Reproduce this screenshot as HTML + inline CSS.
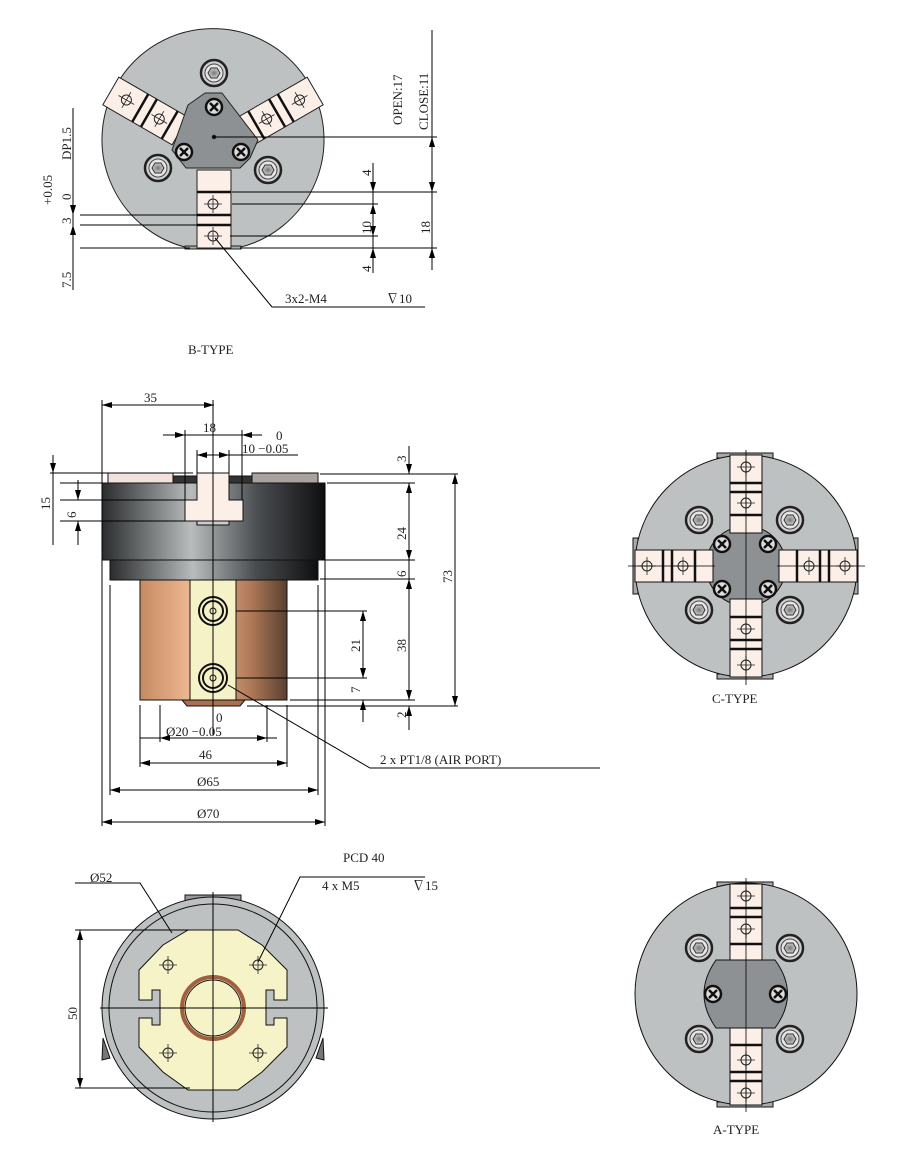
<!DOCTYPE html>
<html><head><meta charset="utf-8"><style>
html,body{margin:0;padding:0;background:#fff;}
svg{display:block;}
text{font-family:"Liberation Serif","Noto Serif CJK SC",serif;font-size:13px;fill:#222;}
</style></head><body>
<svg width="903" height="1159" viewBox="0 0 903 1159" xmlns="http://www.w3.org/2000/svg">
<defs>
<marker id="a" viewBox="0 0 10 6" refX="10" refY="3" markerWidth="10" markerHeight="6" orient="auto-start-reverse"><path d="M0,0 L10,3 L0,6z" fill="#000"/></marker>
<linearGradient id="body" x1="0" x2="1"><stop offset="0" stop-color="#2a2c2e"/><stop offset="0.4" stop-color="#b8bcbc"/><stop offset="0.7" stop-color="#4a4d50"/><stop offset="1" stop-color="#0e0f10"/></linearGradient>
<linearGradient id="cu" x1="0" x2="1"><stop offset="0" stop-color="#c68a62"/><stop offset="0.4" stop-color="#f4c09a"/><stop offset="0.75" stop-color="#b07a58"/><stop offset="1" stop-color="#5a4030"/></linearGradient>
<radialGradient id="hx"><stop offset="0" stop-color="#777"/><stop offset="1" stop-color="#ccc"/></radialGradient>
<g id="hex"><circle r="13" fill="#d0d0d0" stroke="#222" stroke-width="2.5"/><circle r="9" fill="#e6e6e6" stroke="#444"/><polygon points="-6,0 -3,-5 3,-5 6,0 3,5 -3,5" fill="url(#hx)" stroke="#333"/></g>
<g id="ph"><circle r="8" fill="#ddd" stroke="#111" stroke-width="2.5"/><path d="M-4,-4 L4,4 M4,-4 L-4,4" stroke="#111" stroke-width="2.5"/></g>
<g id="tap"><circle r="5" fill="none" stroke="#222"/><path d="M-9,0 H9 M0,-9 V9" stroke="#222" stroke-width="0.8"/></g>
<g id="jawv"><rect x="-16" y="0" width="32" height="86" fill="#fbefe8" stroke="#222"/><path d="M-16,0 H16" stroke="#111" stroke-width="3"/><path d="M-16,30 H16 M-16,38 H16" stroke="#111" stroke-width="2.5"/><path d="M-16,68 H16" stroke="#111" stroke-width="2.5"/><use href="#tap" x="0" y="14"/><use href="#tap" x="0" y="52"/><path d="M0,-6 V92" stroke="#222" stroke-width="0.8"/></g>
</defs>

<!-- ============ B-TYPE ============ -->
<g stroke="#222" stroke-width="1">
<path d="M189,248 A111,111 0 1 1 237,248 Z" fill="#bdc1c1"/>
<rect x="185" y="246" width="56" height="3" fill="#aaa"/>
<!-- left jaw -->
<g transform="translate(213,150) rotate(120)">
<rect x="-16" y="38" width="32" height="80" fill="#fbefe8"/>
<path d="M-16,50 H16 M-16,74 H16 M-16,84 H16" stroke="#111" stroke-width="2.5"/>
<use href="#tap" x="0" y="62"/><use href="#tap" x="0" y="100"/>
</g>
<g transform="translate(213,150) rotate(-120)">
<rect x="-16" y="38" width="32" height="80" fill="#fbefe8"/>
<path d="M-16,50 H16 M-16,74 H16 M-16,84 H16" stroke="#111" stroke-width="2.5"/>
<use href="#tap" x="0" y="62"/><use href="#tap" x="0" y="100"/>
</g>
<rect x="197" y="170" width="34" height="78" fill="#fbefe8"/>
<path d="M197,192 H231 M197,215 H231 M197,225 H231" stroke="#111" stroke-width="2.5"/>
<use href="#tap" x="213" y="204"/><use href="#tap" x="213" y="236"/>
<polygon points="205,93 222,93 258,140 250,158 240,168 186,168 172,150 188,105" fill="#8d9193" stroke="#222" stroke-linejoin="round"/>
<use href="#ph" x="214" y="107"/><use href="#ph" x="184" y="152"/><use href="#ph" x="241" y="152"/>
<circle cx="214" cy="137" r="1.8" fill="#000"/>
<use href="#hex" x="214" y="73"/><use href="#hex" x="158" y="168"/><use href="#hex" x="268" y="170"/>
</g>
<g stroke="#000" stroke-width="1" fill="none">
<path d="M214,137 H437 M232,192 H437 M232,204 H378 M230,236 H378 M240,248 H437"/>
<path d="M80,215 H200 M80,225 H200 M80,248 H190"/>
<path d="M73,108 V290"/>
<path d="M73,200 V215" marker-end="url(#a)"/><path d="M73,225 V240" marker-start="url(#a)"/>
<path d="M373,163 V273"/><path d="M373,175 V192" marker-end="url(#a)"/><path d="M373,204 V236" marker-start="url(#a)" marker-end="url(#a)"/><path d="M373,248 V262" marker-start="url(#a)"/>
<path d="M432,30 V270"/><path d="M432,137 V192" marker-start="url(#a)" marker-end="url(#a)"/><path d="M432,248 V262" marker-start="url(#a)"/>
<path d="M215,238 L272,307 H425"/>
</g>
<text transform="translate(402,125) rotate(-90)">OPEN:17</text>
<text transform="translate(428,130) rotate(-90)">CLOSE:11</text>
<text transform="translate(71,160) rotate(-90)">DP1.5</text>
<text transform="translate(52,205) rotate(-90)">+0.05</text>
<text transform="translate(71,200) rotate(-90)">0</text>
<text transform="translate(71,224) rotate(-90)">3</text>
<text transform="translate(71,288) rotate(-90)">7.5</text>
<text transform="translate(371,176) rotate(-90)">4</text>
<text transform="translate(371,234) rotate(-90)">10</text>
<text transform="translate(371,272) rotate(-90)">4</text>
<text transform="translate(430,234) rotate(-90)">18</text>
<text x="285" y="303">3x2-M4</text>
<text x="386" y="303">∇10</text>
<text x="188" y="354">B-TYPE</text>

<!-- ============ SIDE VIEW ============ -->
<g stroke="#111" stroke-width="1">
<rect x="108" y="473" width="65" height="10" fill="#f3e2dc"/>
<rect x="252" y="473" width="66" height="10" fill="#a9a2a0"/>
<rect x="173" y="476" width="24" height="7" fill="#333"/>
<rect x="229" y="476" width="23" height="7" fill="#333"/>
<rect x="102" y="483" width="223" height="77" fill="url(#body)"/>
<rect x="110" y="560" width="208" height="20" fill="url(#body)"/>
<path d="M197,473 H229 V500 H243 V521 H185 V500 H197 Z" fill="#fbefe8"/>
<rect x="197" y="521" width="32" height="4" fill="#ccc"/>
<rect x="140" y="580" width="147" height="120" fill="url(#cu)"/>
<rect x="190" y="580" width="46" height="120" fill="#f6f2c8"/>
<path d="M182,700 H245 L240,706 H187 Z" fill="#a87050"/>
<circle cx="213" cy="611" r="14" fill="none" stroke-width="2"/><circle cx="213" cy="611" r="10" fill="none" stroke-width="2"/><circle cx="213" cy="611" r="3" fill="none"/>
<circle cx="213" cy="678" r="14" fill="none" stroke-width="2"/><circle cx="213" cy="678" r="10" fill="none" stroke-width="2"/><circle cx="213" cy="678" r="3" fill="none"/>
</g>
<g stroke="#000" stroke-width="1" fill="none">
<path d="M213,400 V735"/>
<path d="M102,400 V826 M325,485 V826 M110,585 V795 M318,585 V795 M140,705 V767 M287,705 V767 M160,705 V742 M267,705 V742 M185,430 V500 M242,430 V500 M197,450 V473 M229,450 V473"/>
<path d="M102,405 H214" marker-start="url(#a)" marker-end="url(#a)"/>
<path d="M163,435 H185" marker-end="url(#a)"/><path d="M242,435 H262" marker-start="url(#a)"/><path d="M185,435 H242"/>
<path d="M197,455 H229" marker-start="url(#a)" marker-end="url(#a)"/><path d="M229,455 H298"/>
<path d="M50,473 H193 M60,483 H102 M60,500 H185 M60,521 H185"/>
<path d="M53,455 V473" marker-end="url(#a)"/><path d="M53,473 V545"/>
<path d="M78,480 V500" marker-end="url(#a)"/><path d="M78,521 V545" marker-start="url(#a)"/>
<path d="M320,474 H458 M327,483 H415 M322,560 H415 M320,579 H415 M236,611 H367 M236,678 H367 M290,700 H415 M247,706 H458"/>
<path d="M409,446 V474" marker-end="url(#a)"/><path d="M409,483 V560" marker-start="url(#a)" marker-end="url(#a)"/><path d="M409,579 V700" marker-start="url(#a)" marker-end="url(#a)"/><path d="M409,706 V730" marker-start="url(#a)"/><path d="M409,560 V579"/>
<path d="M455,474 V706" marker-start="url(#a)" marker-end="url(#a)"/>
<path d="M363,611 V678" marker-start="url(#a)" marker-end="url(#a)"/><path d="M363,700 V722" marker-start="url(#a)"/>
<path d="M160,738 H182" marker-start="url(#a)"/><path d="M245,738 H267" marker-end="url(#a)"/><path d="M140,738 H277"/>
<path d="M140,763 H287" marker-start="url(#a)" marker-end="url(#a)"/>
<path d="M110,790 H318" marker-start="url(#a)" marker-end="url(#a)"/>
<path d="M102,822 H325" marker-start="url(#a)" marker-end="url(#a)"/>
<path d="M228,685 L370,768 H600"/>
</g>
<text x="144" y="402">35</text>
<text x="203" y="432">18</text>
<text x="276" y="440">0</text>
<text x="242" y="453">10 −0.05</text>
<text transform="translate(406,462) rotate(-90)">3</text>
<text transform="translate(406,540) rotate(-90)">24</text>
<text transform="translate(406,577) rotate(-90)">6</text>
<text transform="translate(452,583) rotate(-90)">73</text>
<text transform="translate(360,652) rotate(-90)">21</text>
<text transform="translate(406,652) rotate(-90)">38</text>
<text transform="translate(360,693) rotate(-90)">7</text>
<text transform="translate(406,718) rotate(-90)">2</text>
<text transform="translate(50,510) rotate(-90)">15</text>
<text transform="translate(76,518) rotate(-90)">6</text>
<text x="216" y="722">0</text>
<text x="166" y="736">Ø20 −0.05</text>
<text x="199" y="759">46</text>
<text x="197" y="786">Ø65</text>
<text x="197" y="818">Ø70</text>
<text x="380" y="764">2 x PT1/8 (AIR PORT)</text>
<text x="343" y="862">PCD 40</text>

<!-- ============ BOTTOM VIEW ============ -->
<g stroke="#111" stroke-width="1">
<rect x="185" y="895" width="56" height="6" fill="#999"/>
<path d="M103,1038 L110,1058 L102,1060 Z M323,1038 L316,1058 L324,1060 Z" fill="#777"/>
<circle cx="213" cy="1008" r="111" fill="#bdc1c1"/>
<circle cx="213" cy="1008" r="104" fill="none"/>
<path d="M188,930 H238 L262,945 L287,970 V1000 H274 V990 H266 V1025 H274 V1018 H287 V1047 L262,1072 L238,1090 H188 L163,1072 L139,1047 V1018 H152 V1025 H160 V990 H152 V1000 H139 V970 L163,945 Z" fill="#f6f3c8"/>
<circle cx="213" cy="1008" r="31" fill="none" stroke="#a06040" stroke-width="4"/>
<circle cx="213" cy="1008" r="28" fill="#f6f3c8"/>
<use href="#tap" x="168" y="965"/><use href="#tap" x="258" y="965"/><use href="#tap" x="168" y="1053"/><use href="#tap" x="258" y="1053"/>
</g>
<g stroke="#000" stroke-width="1" fill="none">
<path d="M213,892 V1122 M100,1008 H328"/>
<path d="M75,883 H140 L172,933"/>
<path d="M258,962 L300,877 H425"/>
<path d="M75,930 H190 M75,1088 H190"/>
<path d="M80,930 V1088" marker-start="url(#a)" marker-end="url(#a)"/>
</g>
<text x="90" y="882">Ø52</text>
<text x="322" y="890">4 x M5</text>
<text x="412" y="890">∇15</text>
<text transform="translate(77,1020) rotate(-90)">50</text>

<!-- ============ C-TYPE ============ -->
<g stroke="#111" stroke-width="1">
<rect x="717" y="453" width="56" height="5" fill="#aaa"/>
<rect x="717" y="674" width="56" height="5" fill="#aaa"/>
<rect x="633" y="538" width="5" height="56" fill="#aaa"/>
<rect x="853" y="538" width="5" height="56" fill="#aaa"/>
<circle cx="746" cy="566" r="111" fill="#bdc1c1"/>
<circle cx="746" cy="566" r="40" fill="#8d9193"/>
<g transform="translate(746,455)"><rect x="-16" y="0" width="32" height="78" fill="#fbefe8"/><path d="M-16,28 H16 M-16,37 H16 M-16,60 H16" stroke-width="2.5"/><use href="#tap" x="0" y="12"/><use href="#tap" x="0" y="48"/></g>
<g transform="translate(746,677) rotate(180)"><rect x="-16" y="0" width="32" height="78" fill="#fbefe8"/><path d="M-16,28 H16 M-16,37 H16 M-16,60 H16" stroke-width="2.5"/><use href="#tap" x="0" y="12"/><use href="#tap" x="0" y="48"/></g>
<g transform="translate(635,566) rotate(-90)"><rect x="-16" y="0" width="32" height="78" fill="#fbefe8"/><path d="M-16,28 H16 M-16,37 H16 M-16,60 H16" stroke-width="2.5"/><use href="#tap" x="0" y="12"/><use href="#tap" x="0" y="48"/></g>
<g transform="translate(857,566) rotate(90)"><rect x="-16" y="0" width="32" height="78" fill="#fbefe8"/><path d="M-16,28 H16 M-16,37 H16 M-16,60 H16" stroke-width="2.5"/><use href="#tap" x="0" y="12"/><use href="#tap" x="0" y="48"/></g>
<use href="#ph" x="722" y="544"/><use href="#ph" x="768" y="544"/><use href="#ph" x="722" y="589"/><use href="#ph" x="768" y="589"/>
<use href="#hex" x="699" y="520"/><use href="#hex" x="790" y="520"/><use href="#hex" x="699" y="610"/><use href="#hex" x="790" y="610"/>
</g>
<path d="M746,450 V685 M628,566 H715 M777,566 H865" stroke="#000" stroke-width="0.8"/>
<text x="712" y="703">C-TYPE</text>

<!-- ============ A-TYPE ============ -->
<g stroke="#111" stroke-width="1">
<rect x="717" y="882" width="56" height="5" fill="#aaa"/>
<rect x="717" y="1102" width="56" height="5" fill="#aaa"/>
<circle cx="746" cy="994" r="111" fill="#bdc1c1"/>
<g transform="translate(746,884)"><rect x="-16" y="0" width="32" height="78" fill="#fbefe8"/><path d="M-16,24 H16 M-16,33 H16 M-16,60 H16" stroke-width="2.5"/><use href="#tap" x="0" y="12"/><use href="#tap" x="0" y="45"/></g>
<g transform="translate(746,1105) rotate(180)"><rect x="-16" y="0" width="32" height="78" fill="#fbefe8"/><path d="M-16,24 H16 M-16,33 H16 M-16,60 H16" stroke-width="2.5"/><use href="#tap" x="0" y="12"/><use href="#tap" x="0" y="45"/></g>
<path d="M716,960 H775 Q800,994 775,1028 H716 Q692,994 716,960 Z" fill="#8d9193"/>
<use href="#ph" x="713" y="994"/><use href="#ph" x="778" y="994"/>
<use href="#hex" x="699" y="948"/><use href="#hex" x="790" y="948"/><use href="#hex" x="699" y="1039"/><use href="#hex" x="790" y="1039"/>
</g>
<path d="M746,878 V1112" stroke="#000" stroke-width="0.8"/>
<text x="713" y="1134">A-TYPE</text>
</svg>
</body></html>
